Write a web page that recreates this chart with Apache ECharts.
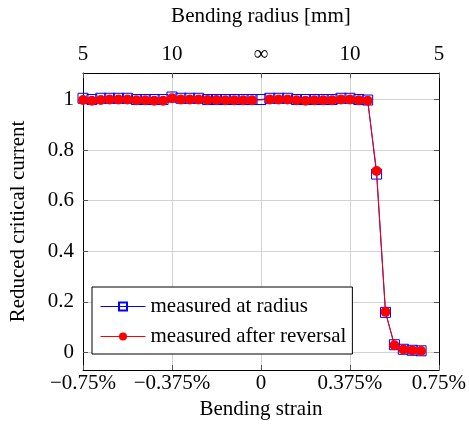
<!DOCTYPE html>
<html><head><meta charset="utf-8">
<script src="https://cdn.jsdelivr.net/npm/echarts@6/dist/echarts.min.js"></script>
<style>html,body{margin:0;padding:0;background:#fff}#c{width:469px;height:431px}</style>
</head><body><div id="c"></div>
<script>
const strain = [-0.75,-0.7125,-0.675,-0.6375,-0.6,-0.5625,-0.525,-0.4875,-0.45,-0.4125,
  -0.375,-0.3375,-0.3,-0.2625,-0.225,-0.1875,-0.15,-0.1125,-0.075,-0.0375,
  0,0.0375,0.075,0.1125,0.15,0.1875,0.225,0.2625,0.3,0.3375,
  0.375,0.4125,0.45,0.4875,0.525,0.5625,0.6,0.6375,0.675];
const atRadius = [1.005,1.0,1.005,1.005,1.005,1.005,1.0,1.0,1.0,1.0,
  1.01,1.005,1.005,1.005,1.0,1.0,1.0,1.0,1.0,1.0,
  1.0,1.005,1.005,1.005,1.0,1.0,1.0,1.0,1.0,1.005,
  1.005,1.0,0.998,0.705,0.158,0.03,0.012,0.008,0.006];
const afterReversal = [0.998,0.995,0.998,1.0,1.0,1.0,0.997,0.997,0.995,0.995,
  1.005,1.0,1.0,1.0,0.998,0.998,0.997,0.997,0.997,0.997,
  null,1.0,1.0,1.0,0.997,0.995,0.997,0.997,0.997,1.0,
  1.0,0.997,0.995,0.717,0.16,0.028,0.011,0.007,0.005];
const bottomTicks = [-0.75,-0.375,0,0.375,0.75];
const bottomLabels = ['\u22120.75%','\u22120.375%','0','0.375%','0.75%'];
const topLabels = ['5','10','\u221E','10','5'];
const yTicks = [0,0.2,0.4,0.6,0.8,1];

const FONT = '"Liberation Serif","DejaVu Serif",serif';
const FS = 21;
const chart = echarts.init(document.getElementById('c'));
function lab(arr){ return v => { const i = bottomTicks.findIndex(t => Math.abs(t - v) < 1e-6); return i >= 0 ? arr[i] : ''; }; }
const tickStyle = {show:true, inside:true, length:5, lineStyle:{color:'#555', width:1}};
const gridLine = {show:true, lineStyle:{color:'#d2d2d2', width:1}};
const axLine = {show:true, onZero:false, lineStyle:{color:'#000', width:1}};
const blueData = strain.map((x,i)=>[x, atRadius[i]]);
const redData = strain.map((x,i)=>[x, afterReversal[i]]);
chart.setOption({
  animation:false,
  backgroundColor:'#fff',
  grid:{left:81, right:29, top:73, bottom:61, containLabel:false},
  xAxis:[
    {type:'value', position:'bottom', min:-0.75, max:0.75, interval:0.375,
     axisLine:axLine, axisTick:tickStyle, splitLine:gridLine,
     axisLabel:{show:true, margin:3, fontFamily:FONT, fontSize:FS, color:'#000', formatter:lab(bottomLabels), showMinLabel:true, showMaxLabel:true},
     name:'Bending strain', nameLocation:'middle', nameGap:28,
     nameTextStyle:{fontFamily:FONT, fontSize:FS, color:'#000'}},
    {type:'value', position:'top', min:-0.75, max:0.75, interval:0.375,
     axisLine:axLine, axisTick:tickStyle, splitLine:{show:false},
     axisLabel:{show:true, margin:8, fontFamily:FONT, fontSize:FS, color:'#000', formatter:lab(topLabels), showMinLabel:true, showMaxLabel:true},
     name:'Bending radius [mm]', nameLocation:'middle', nameGap:46,
     nameTextStyle:{fontFamily:FONT, fontSize:FS, color:'#000'}}
  ],
  yAxis:[
    {type:'value', position:'left', min:-0.07, max:1.105,
     axisLine:axLine, axisTick:Object.assign({customValues:yTicks}, tickStyle), splitLine:gridLine,
     axisLabel:{show:true, customValues:yTicks, margin:9, fontFamily:FONT, fontSize:FS, color:'#000'},
     name:'Reduced critical current', nameLocation:'middle', nameGap:54,
     nameTextStyle:{fontFamily:FONT, fontSize:FS, color:'#000'}},
    {type:'value', position:'right', min:-0.07, max:1.105,
     axisLine:axLine, axisTick:Object.assign({customValues:yTicks}, tickStyle), splitLine:{show:false},
     axisLabel:{show:false}}
  ],
  legend:{
    orient:'vertical', left:92, top:287, itemWidth:45, itemHeight:10, itemGap:9,
    padding:[9,6,7,8], borderColor:'#000', borderWidth:1, backgroundColor:'#fff',
    textStyle:{fontFamily:FONT, fontSize:FS, color:'#000'},
    lineStyle:{width:1},
    data:['measured at radius','measured after reversal']
  },
  series:[
    {name:'measured at radius', type:'line', data:blueData, xAxisIndex:0, yAxisIndex:0,
     symbol:'rect', symbolSize:10, showAllSymbol:true, connectNulls:true,
     lineStyle:{color:'#0000ff', width:1},
     itemStyle:{color:'rgba(255,255,255,0)', borderColor:'#0000ff', borderWidth:1},
     z:2},
    {name:'measured after reversal', type:'line', data:redData, xAxisIndex:0, yAxisIndex:0,
     symbol:'circle', symbolSize:10, showAllSymbol:true, connectNulls:true,
     lineStyle:{color:'#ff0000', width:1},
     itemStyle:{color:'#ff0000', borderColor:'#ff0000', borderWidth:0},
     z:3}
  ]
});
</script></body></html>
